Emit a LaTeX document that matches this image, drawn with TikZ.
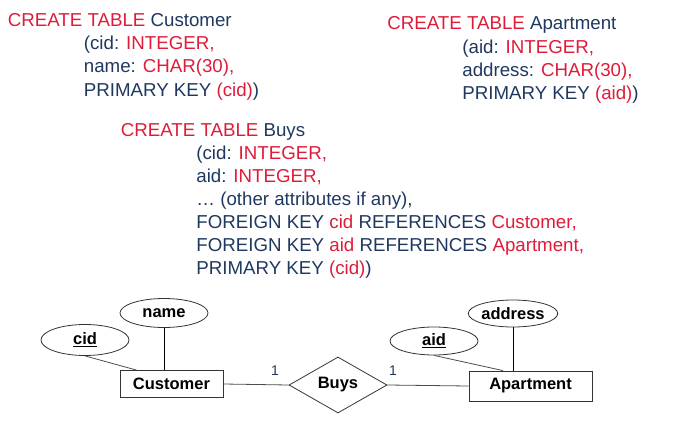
\documentclass[tikz,border=0pt]{standalone}
\usepackage{fontspec}
\setmainfont{Liberation Sans}
\usetikzlibrary{%
  shapes.geometric,% ellipse, diamond
  positioning,%
  calc%
}
\definecolor{sqlred}{RGB}{222,28,58}
\definecolor{sqlblue}{RGB}{31,56,96}
\newcommand{\kw}[1]{\textcolor{sqlred}{#1}}

\begin{document}
\begin{tikzpicture}[
  x=1pt, y=-1pt,
  line width=0.8pt,
  sql/.style={anchor=base west, inner sep=0pt, text=sqlblue,
    font=\fontsize{18.7}{22}\selectfont},
  entity/.style={draw=black!80, rectangle, inner sep=0pt,
    font=\fontsize{16.5}{20}\selectfont\bfseries},
  attr/.style={draw=black!80, ellipse, inner sep=0pt,
    minimum width=88pt, minimum height=29pt,
    font=\fontsize{16.5}{20}\selectfont\bfseries},
  rel/.style={draw=black!80, diamond, inner sep=0pt,
    minimum width=98pt, minimum height=56pt,
    font=\fontsize{16.5}{20}\selectfont\bfseries},
  link/.style={draw=black!70},
  card/.style={text=sqlblue, font=\fontsize{14}{16}\selectfont},
]
\useasboundingbox (0,0) rectangle (675,428);

% Customer
\node[sql] (cust0) at (7.5,26.7) {\kw{CREATE TABLE} Customer};
\node[sql] (cust1) at (83.5,50) {(cid: \kw{INTEGER,}};
\node[sql] (cust2) at (83.5,73) {name: \kw{CHAR(30),}};
\node[sql] (cust3) at (83.5,96) {PRIMARY KEY \kw{(cid)})};

% Apartment
\node[sql] (apt0) at (387,30) {\kw{CREATE TABLE} Apartment};
\node[sql] (apt1) at (462,53.5) {(aid: \kw{INTEGER,}};
\node[sql] (apt2) at (462,76.5) {address: \kw{CHAR(30),}};
\node[sql] (apt3) at (462,99.5) {PRIMARY KEY \kw{(aid)})};

% Buys
\node[sql] (buys0) at (120.5,136) {\kw{CREATE TABLE} Buys};
\node[sql] (buys1) at (196,159.3) {(cid: \kw{INTEGER,}};
\node[sql] (buys2) at (196,182.5) {aid: \kw{INTEGER,}};
\node[sql] (buys3) at (196,205.5) {… (other attributes if any),};
\node[sql] (buys4) at (196,228.5) {FOREIGN KEY \kw{cid} REFERENCES \kw{Customer,}};
\node[sql] (buys5) at (196,251.3) {FOREIGN KEY \kw{aid} REFERENCES \kw{Apartment,}};
\node[sql] (buys6) at (196,274) {PRIMARY KEY \kw{(cid)})};

% ER diagram
\node[entity, minimum width=103pt, minimum height=27pt] (cust) at (171.5,384) {Customer};
\node[entity, minimum width=123pt, minimum height=30pt] (apt) at (530.5,386) {Apartment};
\node[rel] (buys) at (338,385) {Buys};
\node[attr, minimum height=31pt] (cid) at (85,340) {\underline{cid}};
\node[attr] (name) at (164,313) {name};
\node[attr, minimum height=28pt] (aid) at (434,341) {\underline{aid}};
\node[attr, minimum height=27pt] (address) at (513,313.5) {address};

\draw[link] (cid.south) -- ([xshift=-35pt]cust.north);
\draw (name.south) -- (name.south |- cust.north);
\draw[link] (aid.south) -- ([xshift=-27.5pt]apt.north);
\draw (address.south) -- (address.south |- apt.north);

\draw[link] (cust.east) -- node[card, pos=.79, above=6pt] (c1) {1} (buys.west);
\draw[link] (buys.east) -- node[card, pos=.07, above=6pt] (c2) {1} (apt.west);
\end{tikzpicture}
\end{document}
